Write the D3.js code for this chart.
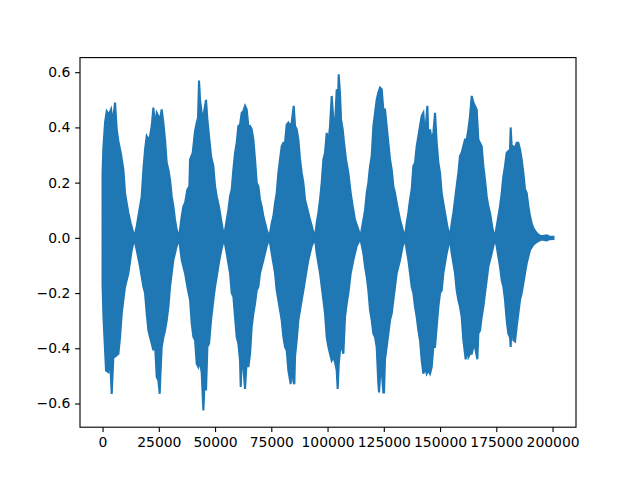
<!DOCTYPE html>
<html>
<head>
<meta charset="utf-8">
<script src="https://cdn.jsdelivr.net/npm/d3@7"></script>
<style>
  html, body { margin: 0; padding: 0; background: #ffffff; }
  svg { display: block; }
  text { font-family: "DejaVu Sans", sans-serif; }
</style>
</head>
<body>
<svg id="chart" width="640" height="480"></svg>
<script>
// ---- DATA: waveform envelope (sample index, amplitude) ----
const upperEnvelope = [
  [0,0.236],[370,0.326],[1110,0.417],[1850,0.459],[2890,0.447],[3780,0.465],[4520,0.417],[5560,0.49],[6300,0.393],[7040,0.35],[8220,0.302],[9260,0.247],[10000,0.162],[10740,0.126],[11480,0.09],[12520,0.053],[13700,0.017],[14150,0.003],
  [15180,0.041],[16660,0.114],[17400,0.15],[18150,0.247],[18890,0.32],[19630,0.368],[20370,0.356],[21110,0.368],[21850,0.405],[22590,0.472],[23330,0.405],[24070,0.453],[24810,0.441],[25550,0.429],[26290,0.465],[27030,0.417],[27770,0.356],[28510,0.272],[29260,0.247],[30000,0.21],[30740,0.15],[31480,0.114],[32220,0.065],[32960,0.029],[34000,0.003],
  [35180,0.078],[35920,0.114],[36660,0.126],[37700,0.175],[38590,0.187],[38890,0.284],[40070,0.308],[41110,0.387],[41850,0.417],[42440,0.435],[42880,0.57],[43330,0.5],[44070,0.453],[44810,0.441],[45990,0.5],[46590,0.429],[47330,0.368],[48220,0.296],[49250,0.26],[49990,0.187],[50740,0.15],[51800,0.11],[52900,0.055],[54000,0.003],
  [55180,0.065],[55920,0.10],[56660,0.15],[57400,0.175],[58140,0.247],[58880,0.308],[59620,0.344],[60360,0.405],[61100,0.41],[61850,0.453],[62590,0.459],[63330,0.478],[64070,0.465],[64810,0.405],[65550,0.405],[66290,0.393],[67030,0.356],[67770,0.284],[68510,0.2],[69250,0.187],[69990,0.138],[70730,0.114],[71470,0.078],[72950,0.03],[74140,0.003],
  [75180,0.053],[75920,0.078],[76660,0.126],[77400,0.162],[78140,0.235],[78880,0.284],[79620,0.332],[80360,0.344],[81100,0.344],[81840,0.41],[82580,0.417],[83320,0.405],[84060,0.417],[84960,0.478],[85550,0.405],[86290,0.393],[87030,0.356],[87770,0.284],[88510,0.235],[89250,0.2],[89990,0.138],[90730,0.114],[91470,0.09],[92210,0.065],[93400,0.03],[94430,0.003],
  [95170,0.053],[95910,0.09],[96660,0.138],[97400,0.2],[98140,0.284],[98880,0.308],[99620,0.38],[100360,0.344],[101100,0.405],[101840,0.514],[102580,0.429],[103320,0.405],[104060,0.538],[104500,0.45],[104950,0.592],[105550,0.52],[106000,0.429],[106730,0.393],[107330,0.344],[108210,0.284],[109250,0.235],[110290,0.162],[111180,0.114],[112210,0.065],[113690,0.03],[114600,0.003],
  [115920,0.065],[116660,0.10],[117400,0.162],[118140,0.2],[118880,0.26],[119620,0.296],[120360,0.405],[121100,0.453],[121840,0.5],[122580,0.526],[123320,0.544],[124060,0.538],[124800,0.465],[125540,0.465],[126280,0.405],[127020,0.344],[127770,0.284],[128510,0.247],[129250,0.187],[129990,0.162],[130730,0.126],[132210,0.065],[133400,0.03],[134430,0.003],
  [135170,0.053],[135910,0.09],[136650,0.138],[137390,0.175],[138140,0.26],[138880,0.272],[139620,0.332],[140360,0.368],[141100,0.405],[141840,0.441],[142580,0.453],[143320,0.368],[144360,0.478],[144800,0.37],[145540,0.393],[146280,0.356],[147020,0.38],[147770,0.453],[148510,0.344],[149250,0.272],[149990,0.235],[150730,0.162],[151470,0.126],[152210,0.09],[153250,0.041],[154430,0.003],
  [155170,0.053],[155910,0.09],[156650,0.138],[157390,0.187],[158130,0.235],[158870,0.296],[159610,0.308],[160350,0.332],[161090,0.356],[161840,0.356],[162580,0.393],[163320,0.441],[164060,0.514],[164800,0.49],[165540,0.478],[166280,0.465],[167020,0.356],[167760,0.344],[168500,0.332],[169240,0.26],[169980,0.21],[170730,0.15],[171470,0.114],[172210,0.09],[173390,0.03],[174430,0.003],
  [175170,0.041],[175910,0.078],[176650,0.114],[177390,0.162],[178130,0.223],[178870,0.26],[179610,0.308],[180350,0.314],[181090,0.32],[181390,0.40],[181830,0.332],[182570,0.332],[183320,0.326],[184060,0.344],[184800,0.344],[185540,0.32],[186280,0.284],[187020,0.235],[187770,0.175],[188510,0.162],[189250,0.114],[189990,0.078],[190730,0.053],[191470,0.035],[192650,0.02],[193690,0.011],[195000,0.006],[197400,0.009],[198500,0.005],[200400,0.004]
];
const lowerEnvelope = [
  [0,-0.17],[400,-0.286],[1550,-0.48],[2590,-0.486],[3330,-0.43],[4070,-0.565],[4810,-0.433],[5560,-0.43],[7040,-0.42],[7780,-0.36],[8520,-0.274],[9260,-0.225],[10000,-0.177],[11480,-0.128],[12960,-0.044],[14150,-0.003],
  [15180,-0.044],[16660,-0.104],[17400,-0.14],[18150,-0.177],[18890,-0.2],[19630,-0.274],[20370,-0.335],[21110,-0.36],[21850,-0.383],[22590,-0.407],[23330,-0.383],[24070,-0.504],[24810,-0.516],[25400,-0.565],[25700,-0.5],[26290,-0.395],[27030,-0.36],[27770,-0.335],[28510,-0.3],[29260,-0.25],[30000,-0.177],[30740,-0.128],[31480,-0.08],[32960,-0.03],[34000,-0.003],
  [35180,-0.08],[36660,-0.128],[37700,-0.177],[38890,-0.225],[39630,-0.31],[40370,-0.359],[41110,-0.37],[41850,-0.456],[42590,-0.468],[43330,-0.444],[44070,-0.49],[44810,-0.625],[45550,-0.48],[45990,-0.553],[46590,-0.395],[47330,-0.383],[48220,-0.298],[49250,-0.225],[49990,-0.177],[50740,-0.14],[51920,-0.08],[52900,-0.04],[54000,-0.003],
  [55180,-0.056],[55920,-0.092],[56660,-0.128],[57400,-0.2],[58140,-0.213],[58880,-0.286],[59620,-0.359],[60360,-0.383],[61100,-0.444],[61400,-0.54],[61850,-0.444],[62590,-0.468],[63330,-0.547],[64070,-0.444],[64810,-0.468],[65550,-0.42],[66290,-0.322],[67030,-0.274],[67770,-0.238],[68510,-0.19],[69250,-0.177],[69990,-0.128],[70730,-0.104],[71470,-0.08],[72950,-0.03],[74140,-0.003],
  [75180,-0.056],[75920,-0.092],[76660,-0.128],[77400,-0.19],[78140,-0.225],[78880,-0.262],[79620,-0.298],[80360,-0.359],[81100,-0.395],[81840,-0.407],[82580,-0.48],[83620,-0.53],[84060,-0.444],[84810,-0.52],[85250,-0.53],[85550,-0.43],[86290,-0.371],[87030,-0.298],[87770,-0.262],[88510,-0.225],[89250,-0.19],[89990,-0.153],[90730,-0.116],[91470,-0.08],[92950,-0.03],[94430,-0.003],
  [95170,-0.056],[95910,-0.092],[96660,-0.128],[97400,-0.177],[98140,-0.225],[98880,-0.274],[99620,-0.359],[100360,-0.395],[101100,-0.42],[101840,-0.444],[102580,-0.432],[103320,-0.45],[104060,-0.48],[104500,-0.547],[104950,-0.46],[105550,-0.407],[106290,-0.395],[107030,-0.42],[107770,-0.286],[108510,-0.238],[109250,-0.2],[110290,-0.128],[111470,-0.08],[112950,-0.03],[114600,-0.003],
  [115920,-0.056],[116660,-0.104],[117400,-0.14],[118140,-0.19],[118880,-0.262],[119620,-0.298],[120360,-0.347],[121100,-0.359],[121840,-0.395],[122580,-0.53],[122880,-0.56],[123620,-0.47],[124060,-0.48],[124800,-0.56],[125100,-0.56],[125540,-0.44],[126280,-0.395],[127020,-0.347],[127770,-0.298],[128510,-0.274],[129250,-0.225],[129990,-0.177],[130730,-0.128],[132210,-0.08],[133400,-0.03],[134430,-0.003],
  [135170,-0.044],[135910,-0.08],[136650,-0.128],[137390,-0.177],[138140,-0.2],[138880,-0.25],[139620,-0.286],[140360,-0.335],[141100,-0.371],[141840,-0.444],[142580,-0.492],[143320,-0.468],[144060,-0.492],[144800,-0.48],[145540,-0.492],[146280,-0.468],[147020,-0.395],[147770,-0.395],[148510,-0.322],[149250,-0.25],[149990,-0.2],[150730,-0.19],[151470,-0.128],[152950,-0.056],[154430,-0.003],
  [155170,-0.056],[155910,-0.092],[156650,-0.128],[157390,-0.19],[158130,-0.225],[158870,-0.25],[159610,-0.286],[160350,-0.371],[161390,-0.44],[161840,-0.395],[162580,-0.432],[163320,-0.42],[164060,-0.42],[164800,-0.395],[165540,-0.395],[166580,-0.44],[167020,-0.347],[167760,-0.335],[168500,-0.286],[169240,-0.25],[169980,-0.2],[170730,-0.153],[171470,-0.104],[172950,-0.056],[174430,-0.003],
  [175170,-0.03],[175910,-0.068],[176650,-0.104],[177390,-0.153],[178130,-0.177],[178870,-0.225],[179610,-0.298],[180350,-0.347],[181090,-0.36],[181390,-0.395],[181830,-0.3],[182570,-0.371],[183320,-0.375],[184060,-0.322],[184800,-0.274],[185540,-0.225],[186280,-0.2],[187020,-0.165],[187770,-0.128],[188510,-0.092],[189250,-0.068],[189990,-0.044],[191470,-0.025],[192650,-0.017],[193690,-0.012],[195000,-0.006],[197400,-0.009],[198500,-0.005],[200400,-0.004]
];
const xTicks = [0, 25000, 50000, 75000, 100000, 125000, 150000, 175000, 200000];
const yTicks = [-0.6, -0.4, -0.2, 0.0, 0.2, 0.4, 0.6];

// ---- LAYOUT (matplotlib default axes box) ----
const W = 640, H = 480;
const axLeft = 80, axRight = 576, axTop = 57.6, axBottom = 427.2;
const lineColor = "#1f77b4";
const fontPx = 13.9, tickLen = 4.86, tickPad = 4.86;

const allPts = upperEnvelope.concat(lowerEnvelope);
const xMin = d3.min(allPts, d => d[0]), xMax = d3.max(allPts, d => d[0]);
const yMin = d3.min(allPts, d => d[1]), yMax = d3.max(allPts, d => d[1]);
const xm = (xMax - xMin) * 0.05, ym = (yMax - yMin) * 0.05;

const x = d3.scaleLinear().domain([xMin - xm, xMax + xm]).range([axLeft, axRight]);
const y = d3.scaleLinear().domain([yMin - ym, yMax + ym]).range([axBottom, axTop]);

const svg = d3.select("#chart");
svg.append("rect").attr("width", W).attr("height", H).attr("fill", "#ffffff");

// waveform: polygon along the upper envelope then back along the lower one
const ring = upperEnvelope.concat(lowerEnvelope.slice().reverse());
const line = d3.line().x(d => x(d[0])).y(d => y(d[1]));
svg.append("path")
  .attr("d", line(ring) + "Z")
  .attr("fill", lineColor)
  .attr("stroke", lineColor)
  .attr("stroke-width", 2.08)
  .attr("stroke-linejoin", "miter");

// axes
const xAxis = d3.axisBottom(x).tickValues(xTicks).tickFormat(d3.format("d"))
  .tickSize(tickLen).tickPadding(tickPad).tickSizeOuter(0);
const yAxis = d3.axisLeft(y).tickValues(yTicks).tickFormat(d3.format(".1f"))
  .tickSize(tickLen).tickPadding(tickPad).tickSizeOuter(0);

const gx = svg.append("g").attr("transform", `translate(0,${axBottom})`).call(xAxis);
const gy = svg.append("g").attr("transform", `translate(${axLeft},0)`).call(yAxis);
[gx, gy].forEach(g => {
  g.select(".domain").remove();
  g.selectAll(".tick line").attr("stroke", "#000").attr("stroke-width", 1.11);
  g.selectAll(".tick text").attr("fill", "#000")
    .style("font-family", "'DejaVu Sans', sans-serif").style("font-size", fontPx + "px");
});

// frame (spines)
svg.append("rect")
  .attr("x", axLeft).attr("y", axTop)
  .attr("width", axRight - axLeft).attr("height", axBottom - axTop)
  .attr("fill", "none").attr("stroke", "#000").attr("stroke-width", 1.11);
</script>
</body>
</html>
